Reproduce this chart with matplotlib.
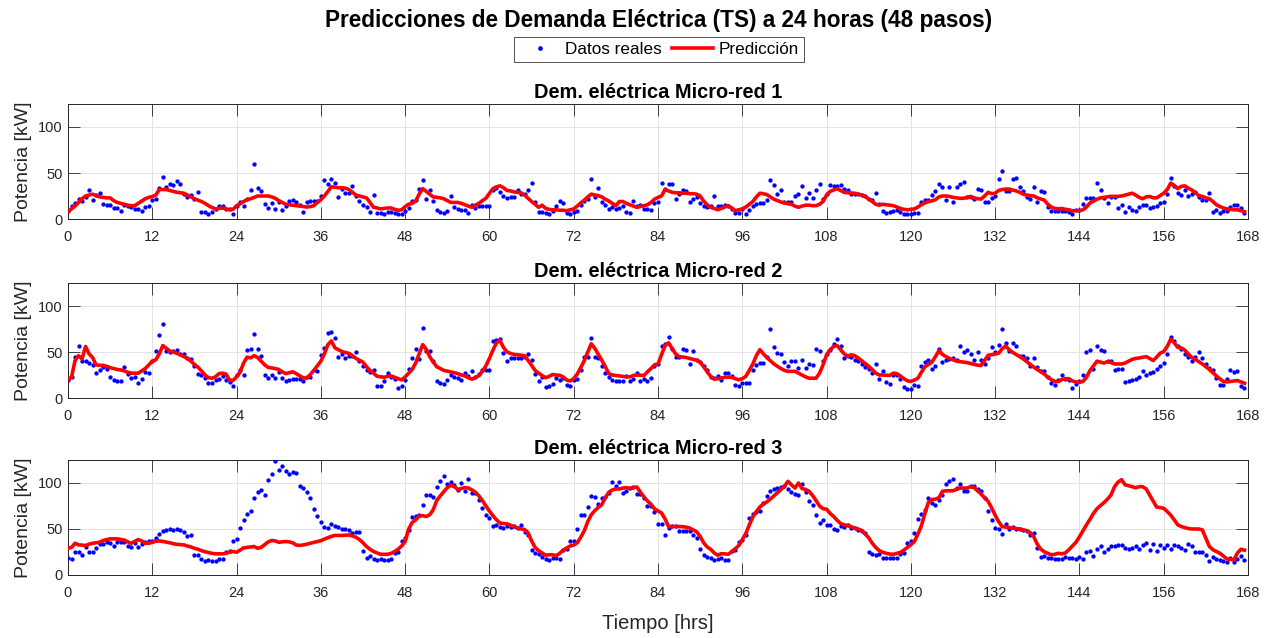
import numpy as np
import matplotlib
matplotlib.use("Agg")
import matplotlib.pyplot as plt
from matplotlib.lines import Line2D

plt.rcParams['font.family'] = ['Liberation Sans', 'DejaVu Sans']

# time axis: 48 steps per day -> half-hour resolution over one week
t = np.arange(336) * 0.5

real_1 = [
    9, 14, 17, 22, 20, 24, 31, 21, 26, 28, 16, 15, 15, 12, 12, 9, 15, 14, 13, 11, 11, 9, 13, 14,
    21, 22, 34, 46, 35, 38, 37, 41, 38, 27, 24, 26, 22, 29, 8, 8, 5, 8, 11, 14, 14, 11, 11, 5,
    14, 19, 14, 22, 32, 60, 34, 30, 16, 12, 17, 11, 18, 10, 14, 20, 21, 19, 15, 8, 18, 20, 20, 20,
    25, 42, 38, 43, 39, 24, 33, 28, 28, 36, 25, 20, 15, 13, 8, 26, 6.5, 6.5, 5, 8, 8, 7, 5, 5,
    9, 12, 20, 21, 33, 42, 22, 31, 20, 10, 8, 6.5, 9, 25, 13, 11, 10, 10, 7, 15, 12, 14.5, 14.5, 14.5,
    14.5, 31, 34, 29, 25, 23, 24, 24, 31.5, 27, 27, 31.5, 39, 18, 8, 8, 7, 5, 9, 14.5, 20, 17, 6, 5,
    8, 9, 15, 20, 22, 43, 24, 34, 18, 15, 11, 13, 11, 12, 14, 8, 6.5, 20, 14.5, 15, 11, 11, 10, 17,
    18, 39, 32.6, 38, 38, 22, 27, 32, 30, 18, 22, 23.5, 17, 14, 12.7, 14, 25, 14.5, 14.5, 15.6, 14, 11, 7, 6.5,
    11, 5, 10, 14.5, 16, 17, 17, 21, 42, 37, 27, 31, 19, 18, 18, 25, 27, 35.5, 23, 28, 23, 31, 38, 22,
    27, 37, 36, 35.5, 37, 33, 31, 27, 27, 27, 26, 25, 22, 21, 28, 16, 9, 7, 8, 9, 10, 8, 5, 5,
    5, 7, 7, 19, 21, 21, 26, 30, 38, 34.4, 20.6, 34.4, 18, 35, 38, 40.6, 23.5, 23.5, 22, 32.6, 31, 19, 19, 23,
    25, 43.5, 52.5, 30, 30, 44, 44.6, 34.4, 30, 23.5, 22, 34.4, 18, 30, 29, 12.7, 9, 9, 9, 9, 9, 8, 5.4, 10,
    10, 16, 22.5, 22.5, 23, 39, 31.5, 22.5, 17, 23.5, 23.5, 11.6, 15, 8, 12.7, 10, 8.7, 12.7, 15, 15, 12, 13.4, 14.5, 17,
    19, 27, 45, 36, 28, 26.4, 31, 25, 27, 29, 23.5, 21, 21, 28, 8, 10, 6.5, 9, 9, 13.4, 15, 15, 11.6, 6,
]
pred_1 = [
    8, 11, 14, 18, 22, 25, 26, 27, 25.5, 24, 23.5, 23, 23, 20, 18, 17, 16, 15, 14.5, 14.5, 17, 19.5, 22, 23.5,
    24.5, 26, 32, 32, 32, 31, 30, 29, 28.5, 28, 26, 24, 22, 20.5, 19, 17, 14.5, 12.5, 11, 11.5, 12, 11, 10, 10.5,
    14.5, 16.5, 19, 21, 22, 23.5, 25, 25, 25, 25, 24, 22.5, 20, 18, 16, 15.5, 15, 14.5, 14, 13.5, 13, 13.5, 14.5, 18,
    21, 25, 30, 35, 34.5, 34, 34, 33.5, 32, 29, 26, 25, 24, 23, 18, 12.7, 12, 11, 11.5, 12, 12, 10.5, 9.5, 10,
    13.5, 16, 17, 19.5, 27, 33, 30, 27, 24, 23.5, 23, 22, 20, 18, 18, 18, 17, 15.5, 14, 12.7, 15, 17, 20, 22.5,
    28, 33, 35, 36, 34, 31, 30.5, 29.5, 29, 28.5, 26, 22.5, 19, 16, 12.7, 15, 11.5, 10.5, 10, 10, 9.5, 9.5, 9, 10,
    11, 14, 17.5, 20.5, 24, 27, 26, 25.5, 24, 21.5, 19.5, 17, 14.5, 19, 19, 17, 15.5, 14, 12.7, 13.5, 14.5, 15.5, 18, 21.5,
    23.5, 25, 32, 30.5, 29, 28.5, 28.5, 28, 28, 27.5, 27.5, 27, 25, 19.5, 15.5, 12.5, 11.5, 10, 11.5, 13, 14.5, 12, 9, 10,
    11, 13, 16, 19, 24, 28, 27.5, 26.5, 24, 21.5, 20, 18.5, 17.4, 16.5, 16, 14, 12.7, 14, 15, 15, 14.5, 14.5, 16, 19,
    26, 30, 31.5, 33, 31, 29, 28.5, 28.3, 28, 27, 26, 24.5, 21.5, 19, 16, 15, 16, 15.5, 15, 14.5, 13, 11.5, 10.5, 10,
    10.5, 11, 13, 15.5, 17.5, 19, 19.7, 21, 24, 25, 25, 24.5, 23.5, 23, 22.5, 22.5, 23.5, 24.5, 23, 22, 21.7, 25, 29, 27.5,
    28, 31, 32, 32.5, 32.5, 31.5, 30.5, 29, 27, 26, 25.5, 25, 23, 21.7, 20.5, 16, 13, 11.5, 11, 11.5, 10.5, 10, 9, 9,
    9, 10, 13, 17.4, 19.5, 21.5, 23, 23.5, 24, 24.6, 24.6, 24.6, 25, 26, 27, 28, 26, 23.5, 22, 24, 24.5, 23, 23, 25.5,
    28, 32, 39, 36.5, 33, 35.5, 36, 33.5, 31.5, 28.5, 25.5, 24.5, 23, 22, 19, 15.5, 13.5, 12, 11, 10.5, 10, 10, 9, 8,
]

real_2 = [
    20, 22.5, 45, 56, 40.7, 40, 38, 36, 27, 30.5, 34, 31.6, 22.5, 20, 18, 18, 33.5, 26, 21.5, 23, 16, 20.7, 28.7, 27,
    40.7, 51, 68, 80, 51, 50, 51, 52.4, 48, 48, 43.6, 42.5, 35, 26, 25, 21.8, 16.4, 16.4, 20, 20.7, 24.4, 19.6, 17, 13.5,
    25, 30, 25, 52.7, 53.5, 70, 53.5, 46, 25, 21.5, 25, 21.5, 28, 21.5, 19, 20, 20.7, 20.7, 20.7, 18, 22.5, 22.5, 30.5, 29.8,
    47, 54, 70.5, 71.6, 65, 44.4, 48, 43.3, 46, 46, 50, 40.7, 35, 30, 28, 30.5, 12.7, 12.7, 19, 27, 23.3, 20.7, 10.5, 13.5,
    20, 31.6, 43.3, 53.5, 42.5, 76.4, 51.6, 51.6, 40.7, 18, 16.4, 15.3, 20, 25, 22.5, 21.8, 19.6, 27, 24.4, 29, 23.3, 26, 30, 30.5,
    30, 62.5, 63.3, 64.4, 48.7, 40, 43.3, 43.3, 43.3, 43.3, 45, 48, 41.5, 26, 18, 23.3, 12.4, 13.5, 15.3, 21.8, 20, 21.8, 14.5, 13.5,
    20, 20.7, 30, 44.4, 45, 65, 44.4, 43.6, 35, 27, 22.5, 20, 18, 19, 19, 24.4, 18, 20.7, 27, 19, 20.7, 18, 21.8, 35,
    37, 57, 59, 66, 53.5, 45, 44.4, 53.5, 52.7, 37, 51.6, 41.8, 39, 35.3, 30.5, 22.5, 21.8, 23.6, 20, 27, 27, 23.6, 14.2, 13.5,
    16.4, 16.4, 16.4, 30, 36.4, 38, 37.8, 45, 74.5, 55.3, 48.7, 48, 39, 35.3, 40, 40, 32.7, 41.5, 32.7, 37, 36, 53.5, 51.6, 40,
    47.3, 52.4, 59, 64.4, 57, 43.3, 45.5, 44.4, 41.8, 40.7, 37, 34.2, 31.6, 27, 37, 20.7, 29, 17, 15.3, 25, 25, 20.7, 11.6, 9.8,
    9.8, 14.2, 12.7, 35.3, 39.6, 41.8, 31.6, 34.5, 53.5, 39.6, 41.5, 42, 43.3, 41.5, 56, 50.5, 52.7, 48, 41.8, 50.5, 41.5, 37, 43.3, 55.3,
    50, 58, 75.3, 59.6, 51.6, 60, 57, 46, 46, 43.6, 35.3, 43.6, 34.2, 29.8, 29.8, 22.5, 16.4, 14.2, 20, 25.5, 20.7, 20, 10.9, 15.3,
    18, 25, 49.8, 52.4, 31.6, 57, 52.7, 51.6, 40.7, 40.7, 30.5, 31.6, 31.6, 17, 18, 19.6, 20.7, 22.5, 29, 25, 27, 28.7, 31.6, 34.5,
    37.8, 48, 66, 62.5, 56, 53.5, 48, 44.4, 40.7, 45, 50.5, 43.6, 37, 32.7, 30.5, 22, 14.5, 14.5, 20.7, 30.5, 28, 29.8, 12.7, 10.9,
]
pred_2 = [
    20, 22.5, 40.7, 46, 42.5, 56, 48, 44, 36, 35.5, 35.5, 34.5, 33, 32, 31, 30.5, 29.5, 28, 27, 27, 27, 29.5, 32, 36,
    40, 41.5, 48, 57, 54, 51, 50, 48.5, 47, 45, 43, 40, 36.5, 33.5, 29.5, 25, 22, 21.5, 23, 26.5, 27, 26, 19.5, 19,
    23, 28, 38, 44.4, 43.6, 46, 44, 40, 36, 33.3, 32.7, 32, 31, 28.5, 26.5, 27.5, 28.5, 26.5, 24, 22, 21.5, 25.5, 30, 35,
    40, 48, 58, 62, 54.5, 52.5, 50.5, 49.5, 48.5, 46, 43, 41, 39, 34, 30, 27, 23.6, 23, 22.5, 23.5, 24, 22.5, 21, 19.6,
    23, 27, 31, 38, 48, 58, 53, 45, 39, 34, 32, 30, 29.2, 28.5, 27.5, 26.5, 25, 24, 22, 20.5, 22, 24.4, 29, 35,
    43, 52, 60, 62.5, 55, 50, 48.5, 47.3, 47, 46.5, 46, 41, 35.5, 30, 27, 24.5, 22, 23.5, 25.5, 25, 24.6, 23, 19.5, 18.5,
    21, 26, 33, 40.5, 50, 59, 54, 47.5, 41, 34, 26.5, 25, 24.5, 24, 23.5, 23, 23, 24.5, 25, 24.7, 24.5, 28.5, 32, 36,
    37, 47, 57, 60, 54, 48, 45, 44.5, 44, 43, 42, 41, 39, 34, 28.5, 23.5, 20.5, 21, 21.8, 22.5, 22.5, 22.5, 21, 19.8,
    21, 23.5, 30, 37, 46, 52.5, 48, 44, 40.5, 37, 34.5, 32, 30, 29, 29, 29, 27, 25, 23, 21.5, 21.5, 21.5, 27, 36,
    47, 52.5, 56, 57, 52.5, 48, 45.5, 47, 46, 43.5, 40.5, 37.5, 34.5, 31, 27, 25, 25, 24.8, 24.5, 27, 26.5, 24, 21, 18.7,
    18, 19.5, 21.5, 28, 34, 36.5, 39, 45, 51.5, 47.3, 45, 43, 41.5, 40, 39.5, 39, 38.5, 37.5, 36.5, 35.7, 35.3, 41, 46.5, 47,
    47.7, 48.7, 53.5, 56.5, 52.5, 49.5, 47.3, 45, 42.5, 39.5, 36.5, 33.5, 31, 28.5, 26, 22.5, 20, 18, 17.8, 20, 21, 21, 18.5, 17.5,
    17, 18, 22.5, 29.8, 35, 40, 39, 38, 39.5, 38.5, 37, 37, 37, 38, 40, 42, 43, 43.5, 44.2, 45, 43, 40.7, 44.5, 48.7,
    50.5, 56, 64, 60, 55, 54.5, 52, 48, 44, 42, 39.5, 37, 34, 31, 27.5, 24, 20.7, 18, 17.5, 18, 18.5, 19, 17.5, 16,
]

real_3 = [
    18, 17.5, 25.5, 25.5, 22, 30, 25.5, 25.5, 29, 34, 34, 35.6, 34.5, 31, 36.4, 36.4, 36, 32, 30, 34.5, 30, 33.5, 36.4, 37,
    37, 40.7, 44.4, 47.3, 49, 50, 48.4, 49.8, 49, 46.5, 42.5, 43.6, 21.8, 21.8, 17.5, 15.6, 16.4, 15.6, 15.6, 17, 17.5, 25.5, 26, 37,
    39.3, 51.6, 60, 66, 70, 83.6, 89.8, 92.7, 86.5, 103, 110, 123.6, 114.5, 118, 112.7, 110, 112, 111, 96.4, 94.5, 90, 83.6, 71.6, 64.4,
    58, 52.7, 51.6, 55.3, 53.8, 52, 50, 50, 48.4, 45.5, 46.5, 46.5, 26, 19, 21, 17, 16.4, 17, 16.4, 16.4, 17.5, 24.4, 25.5, 37.5,
    40, 49, 63, 64.4, 64.7, 76.4, 86.5, 87.3, 84.7, 95.3, 102.5, 108, 99, 100.7, 98, 92.7, 100, 91, 104.4, 89, 89, 81.8, 72.7, 65.5,
    62.5, 53.8, 54.5, 52.7, 51, 53.5, 52.7, 53.8, 51.6, 54.5, 46.5, 43.6, 27, 23.6, 22.5, 20, 17.5, 16.4, 18, 19, 17, 27, 28.4, 37,
    37, 49.8, 65.5, 65.5, 73.5, 85.5, 84.4, 77, 83.6, 84.4, 89, 101, 96.4, 100.7, 89, 91.6, 94.5, 95.3, 88, 88, 83.6, 74.5, 74.5, 68.4,
    55.3, 55.3, 43, 51, 53.5, 53.5, 48, 48, 48, 48, 43.6, 40, 28, 21.8, 20, 19, 16.4, 17.5, 18, 16.4, 16.4, 26, 27, 35.6,
    38, 43.6, 61.8, 66, 68.4, 70, 78, 85.5, 91, 93.5, 94.5, 95.3, 96.4, 93.5, 90, 88.4, 86.5, 99.3, 90, 80.7, 75.6, 64.7, 56.4, 60,
    54.5, 54.5, 50, 49, 53.5, 52.7, 54.5, 51, 51, 49, 48, 45.5, 25.5, 23, 21.8, 22.5, 18, 18, 18, 18, 19, 22.5, 24.4, 35.3,
    37, 46, 60.7, 66.5, 71, 83.6, 78, 76.4, 81.8, 87.3, 99.3, 101.8, 104.4, 95, 99, 91.6, 91.6, 96.4, 96.4, 93.5, 91, 83.6, 69.8, 60,
    51.6, 50, 44.7, 55.3, 50, 52.7, 50, 50, 49, 48, 43.6, 46, 29, 20, 20.7, 18, 18, 17, 17, 17, 19.3, 19, 18, 17,
    19.3, 17.5, 25.5, 26, 21, 28, 31, 25.5, 28, 31, 31, 32.7, 32.7, 29, 28.4, 29, 31, 28, 32.7, 34.5, 27, 33.5, 26, 32.7,
    29.8, 32.7, 28, 32.7, 31.6, 29, 27, 33.5, 31, 25.5, 25.5, 24.7, 21.8, 15.6, 20, 17, 16.4, 15.3, 13.8, 19, 14.5, 17, 20.7, 16.4,
]
pred_3 = [
    29, 30, 34.5, 32.7, 32.5, 32, 33.5, 34.5, 35, 35.6, 37.5, 38.5, 39.3, 39.3, 39.3, 38.7, 38, 36, 34.5, 36.5, 38.5, 37, 34.5, 34.5,
    35.5, 36.7, 37, 36.5, 35.8, 35, 34, 33.3, 33, 32.7, 31.5, 30.5, 29, 28, 26.5, 25.3, 24.5, 23.5, 23, 23, 23, 23.5, 25, 25.5,
    24.8, 27, 29.5, 30, 30.5, 31, 29, 30, 33, 36, 37.5, 37, 35.6, 36, 36.4, 36, 35, 32.5, 32.2, 32.7, 33.5, 34.5, 35.5, 36.3,
    37.3, 39, 40.5, 42, 43, 43, 43, 43.2, 43.5, 42.5, 41, 38.5, 35, 31, 28, 25.5, 24, 22.5, 22.5, 22.5, 23.5, 25.5, 28, 31.5,
    36.4, 50, 57, 60, 64, 64.5, 63.6, 65.5, 71, 81, 86, 90.5, 95, 97.5, 96, 93, 94, 95, 94.5, 92.5, 90, 86, 81, 75,
    69.5, 64.5, 60, 56.4, 56, 55.6, 54, 52.5, 51, 50, 49.5, 46, 37, 30, 26.5, 24, 21.5, 22, 22, 21, 23.6, 27, 29.5, 31.5,
    32.5, 35, 41, 48, 58, 65.5, 70, 73.5, 76.4, 84, 90, 92.5, 93.5, 93.5, 94.5, 95, 94, 95, 95.6, 90, 85, 80.5, 77, 72,
    69.5, 67.5, 61, 52.7, 52.7, 52.7, 52.7, 52.5, 52, 51, 49, 47, 42, 35, 30.5, 28, 24, 21.5, 23.2, 23, 22.5, 25.5, 28.5, 32,
    38.5, 45, 54.5, 63, 69, 74, 77, 79.5, 82.5, 86, 89.5, 93, 96.4, 101.8, 98, 94.5, 100, 94, 93, 91, 86.5, 81, 75, 72,
    71.5, 67, 63.6, 59.5, 56, 54.5, 53.8, 52.5, 51, 50, 48.5, 44.5, 40.5, 34.5, 30, 26.5, 24.7, 23.5, 22.8, 22.5, 23.5, 24.5, 27, 30,
    33, 36.4, 44.5, 53.5, 67, 79, 82, 82.5, 84, 91, 91.5, 91.6, 91.6, 93, 94.5, 94.5, 94.5, 96, 95, 91.5, 88, 84, 80, 73,
    65, 58, 52.7, 52, 51.6, 51, 50.5, 50, 49, 48.3, 46, 41.5, 33.5, 28, 25.3, 23.5, 22, 22.5, 23.6, 23, 24, 27.5, 31.5, 35.5,
    41.5, 48, 54.5, 60.5, 67, 72, 75.5, 78.7, 82.5, 87, 96, 101, 103.6, 98, 97, 96, 94.8, 96, 96, 93.5, 87, 80.5, 73.8, 73.3,
    72.5, 69, 65, 60, 54.5, 52.7, 51.5, 50.5, 50, 50, 50, 49, 40, 31, 27.5, 25.5, 23.6, 20.5, 17.5, 17, 16.5, 24, 28, 27,
]

titles = ["Dem. eléctrica Micro-red 1", "Dem. eléctrica Micro-red 2", "Dem. eléctrica Micro-red 3"]
series = [(real_1, pred_1), (real_2, pred_2), (real_3, pred_3)]

W, H = 1279, 638
fig = plt.figure(figsize=(W / 100, H / 100), dpi=100)

left, right = 68, 1248
tops = [104, 283, 460]
ax_h = 115
ink = '#262626'

axes = []
for (real, pred), title, top in zip(series, titles, tops):
    ax = fig.add_axes([left / W, 1 - (top + ax_h) / H, (right - left) / W, ax_h / H])
    ax.plot(t, real, linestyle='none', marker='o', markersize=3.1,
            markeredgewidth=0, color='blue', zorder=3)
    ax.plot(t, pred, color='red', linewidth=2.6, zorder=4)
    ax.set_xlim(0, 168)
    ax.set_ylim(0, 125)
    ax.set_xticks(range(0, 169, 12))
    ax.set_yticks([0, 50, 100])
    ax.grid(True, color='#e3e3e3', linewidth=0.7)
    ax.set_axisbelow(True)
    ax.tick_params(direction='in', length=8.5, width=0.6, top=True, right=True,
                   labelsize=10.5, colors=ink)
    ax.tick_params(axis='x', pad=8)
    ax.tick_params(axis='y', pad=4)
    for s in ax.spines.values():
        s.set_color(ink)
        s.set_linewidth(0.7)
    ax.set_title(title, fontsize=14.4, fontweight='bold', pad=4, color='black')
    ax.set_ylabel('Potencia [kW]', fontsize=14, color=ink, labelpad=4)
    axes.append(ax)

axes[-1].set_xlabel('Tiempo [hrs]', fontsize=14.5, color=ink, labelpad=10)

fig.text(659 / W, 1 - 21 / H, 'Predicciones de Demanda Eléctrica (TS) a 24 horas (48 pasos)',
         ha='center', va='center', fontsize=16.3, fontweight='bold', color='black')

handles = [
    Line2D([], [], linestyle='none', marker='o', markersize=3.4, markeredgewidth=0, color='blue'),
    Line2D([], [], color='red', linewidth=2.6),
]
leg = fig.legend(handles, ['Datos reales', 'Predicción'], loc='center',
                 bbox_to_anchor=(659 / W, 1 - 49.5 / H), ncol=2, fontsize=12.3,
                 frameon=True, fancybox=False, edgecolor=ink, borderpad=0.3,
                 handlelength=2.4, handletextpad=0.3, columnspacing=0.6)
leg.get_frame().set_linewidth(0.7)

fig.savefig('out.png', dpi=100)
